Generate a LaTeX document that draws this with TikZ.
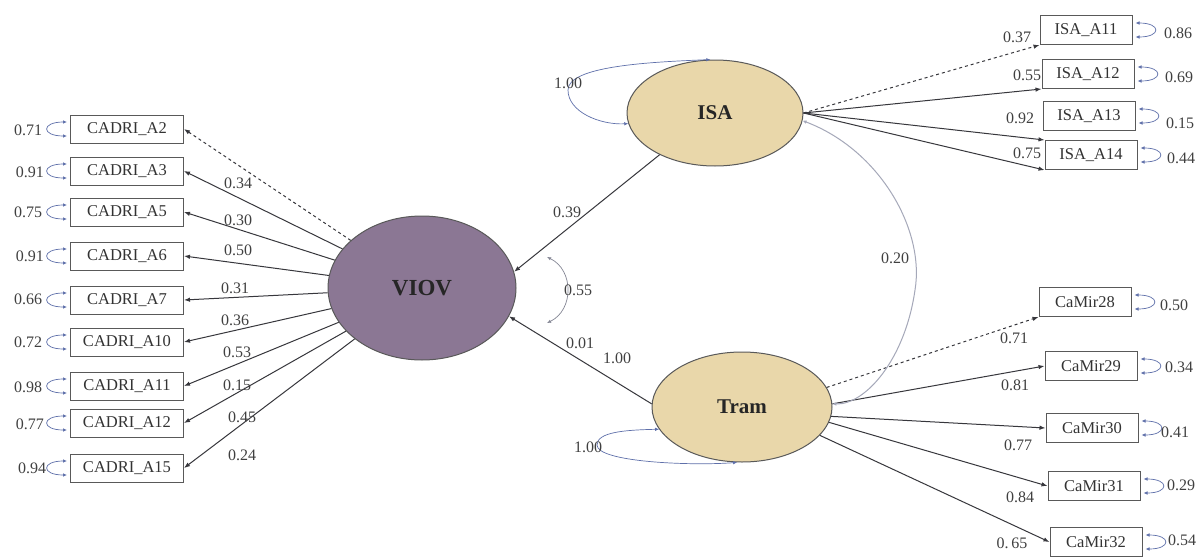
\documentclass[tikz,border=0pt]{standalone}
\usepackage{fontspec}
\setmainfont{Liberation Serif}
\usetikzlibrary{shapes.geometric,arrows.meta}
\definecolor{viovc}{RGB}{139,119,148}
\definecolor{tanc}{RGB}{233,215,170}
\definecolor{loopblue}{RGB}{95,112,170}
\definecolor{covgrey}{RGB}{165,168,185}
\definecolor{edgec}{RGB}{55,55,60}
\newcommand\errL[1]{\draw[loopc] ([xshift=-3pt,yshift=7pt]#1.west) .. controls +(-26pt,0pt) and +(-26pt,0pt) .. ([xshift=-3pt,yshift=-7pt]#1.west);}
\newcommand\errR[1]{\draw[loopc] ([xshift=3pt,yshift=7pt]#1.east) .. controls +(26pt,0pt) and +(26pt,0pt) .. ([xshift=3pt,yshift=-7pt]#1.east);}
\tikzset{
  obs/.style={draw=black!65, line width=1pt, minimum width=113pt, minimum height=28pt, inner sep=0pt, text=black!80, font=\fontsize{16.5}{18}\selectfont},
  obsr/.style={obs, minimum width=92pt, minimum height=29pt},
  lat/.style={ellipse, draw=black!65, line width=1pt, inner sep=0pt, text=black!85},
  load/.style={-{Latex[length=6pt,width=4.5pt]}, line width=1pt, draw=edgec},
  loopc/.style={{Latex[length=4pt,width=3.5pt]}-{Latex[length=4pt,width=3.5pt]}, draw=loopblue, line width=0.7pt},
  covc/.style={{Latex[length=4pt,width=3.5pt]}-{Latex[length=4pt,width=3.5pt]}, draw=covgrey, line width=1pt},
  lbl/.style={font=\fontsize{16}{18}\selectfont, text=black!75, inner sep=0pt}
}
\begin{document}
\begin{tikzpicture}[x=1pt,y=-1pt]
\useasboundingbox[fill=white] (0,0) rectangle (1203,557);

% latent variables
\node[lat, fill=viovc, minimum width=188pt, minimum height=144pt, font=\bfseries\fontsize{23}{26}\selectfont] (VIOV) at (422,288) {VIOV};
\node[lat, fill=tanc, minimum width=176pt, minimum height=106pt, font=\bfseries\fontsize{21}{24}\selectfont] (ISA) at (715,113) {ISA};
\node[lat, fill=tanc, minimum width=180pt, minimum height=110pt, font=\bfseries\fontsize{21}{24}\selectfont] (Tram) at (742,407) {Tram};

% left indicators
\node[obs] (A2)  at (127,129) {CADRI\_A2};
\node[obs] (A3)  at (127,171) {CADRI\_A3};
\node[obs] (A5)  at (127,212) {CADRI\_A5};
\node[obs] (A6)  at (127,256) {CADRI\_A6};
\node[obs] (A7)  at (127,300) {CADRI\_A7};
\node[obs] (A10) at (127,342) {CADRI\_A10};
\node[obs] (A11) at (127,386) {CADRI\_A11};
\node[obs] (A12) at (127,423) {CADRI\_A12};
\node[obs] (A15) at (127,468) {CADRI\_A15};

% ISA indicators
\node[obsr] (I11) at (1086,30)  {ISA\_A11};
\node[obsr] (I12) at (1088,74)  {ISA\_A12};
\node[obsr] (I13) at (1089,116) {ISA\_A13};
\node[obsr] (I14) at (1091,155) {ISA\_A14};

% Tram indicators
\node[obsr] (C28) at (1085,302) {CaMir28};
\node[obsr] (C29) at (1091,366) {CaMir29};
\node[obsr] (C30) at (1092,428) {CaMir30};
\node[obsr] (C31) at (1094,486) {CaMir31};
\node[obsr] (C32) at (1096,542) {CaMir32};

% loadings VIOV
\draw[load,dashed] (VIOV) -- (A2.east);
\draw[load] (VIOV) -- (A3.east);
\draw[load] (VIOV) -- (A5.east);
\draw[load] (VIOV) -- (A6.east);
\draw[load] (VIOV) -- (A7.east);
\draw[load] (VIOV) -- (A10.east);
\draw[load] (VIOV) -- (A11.east);
\draw[load] (VIOV) -- (A12.east);
\draw[load] (VIOV) -- (A15.east);

% loadings ISA
\draw[load,dashed] (ISA.east) -- (I11.south west);
\draw[load] (ISA.east) -- (I12.south west);
\draw[load] (ISA.east) -- (I14.north west);
\draw[load] (ISA.east) -- (I14.south west);

% loadings Tram
\draw[load,dashed] (Tram.13) -- (C28.south west);
\draw[load] (Tram.2) -- (C29.west);
\draw[load] (Tram.-6) -- (C30.west);
\draw[load] (Tram.-10) -- (C31.west);
\draw[load] (Tram.-20) -- (C32.west);

% structural paths
\draw[load] (ISA.217) -- (VIOV.10);
\draw[load] (Tram.178) -- (VIOV.-18);

% error loops
\errL{A2}\errL{A3}\errL{A5}\errL{A6}\errL{A7}\errL{A10}\errL{A11}\errL{A12}\errL{A15}
\errR{I11}\errR{I12}\errR{I13}\errR{I14}
\errR{C28}\errR{C29}\errR{C30}\errR{C31}\errR{C32}

% residual covariance 0.55
\coordinate (r55a) at (547,257);
\coordinate (r55b) at (547,323);
\draw[loopc, draw=covgrey!80!black] (r55a) .. controls (574,270) and (574,310) .. (r55b);

% self loops
\draw[loopc] (ISA.95) .. controls (650,62) and (568,66) .. (568,90) .. controls (568,112) and (600,125) .. (ISA.187);
\draw[loopc] (Tram.195) .. controls (625,430) and (597,432) .. (597,445) .. controls (597,462) and (690,466) .. (Tram.265);

% ISA - Tram covariance
\draw[covc] (ISA.-5) .. controls (880,150) and (925,230) .. (915,290) .. controls (905,360) and (865,405) .. (Tram.2);

% labels: left errors
\node[lbl] (e1) at (28,130) {0.71};
\node[lbl] (e2) at (30,172) {0.91};
\node[lbl] (e3) at (28,212) {0.75};
\node[lbl] (e4) at (30,256) {0.91};
\node[lbl] (e5) at (28,299) {0.66};
\node[lbl] (e6) at (28,342) {0.72};
\node[lbl] (e7) at (28,387) {0.98};
\node[lbl] (e8) at (30,424) {0.77};
\node[lbl] (e9) at (32,468) {0.94};

% labels: left loadings
\node[lbl] (w1) at (238,183) {0.34};
\node[lbl] (w2) at (238,220) {0.30};
\node[lbl] (w3) at (238,250) {0.50};
\node[lbl] (w4) at (235,288) {0.31};
\node[lbl] (w5) at (235,320) {0.36};
\node[lbl] (w6) at (237,352) {0.53};
\node[lbl] (w7) at (237,385) {0.15};
\node[lbl] (w8) at (242,417) {0.45};
\node[lbl] (w9) at (242,455) {0.24};

% labels: ISA side
\node[lbl] (s1) at (1017,37) {0.37};
\node[lbl] (s2) at (1027,75) {0.55};
\node[lbl] (s3) at (1020,118) {0.92};
\node[lbl] (s4) at (1027,153) {0.75};
\node[lbl] (s5) at (1178,33) {0.86};
\node[lbl] (s6) at (1179,77) {0.69};
\node[lbl] (s7) at (1180,123) {0.15};
\node[lbl] (s8) at (1181,158) {0.44};

% labels: Tram side
\node[lbl] (t1) at (1014,338) {0.71};
\node[lbl] (t2) at (1015,385) {0.81};
\node[lbl] (t3) at (1018,445) {0.77};
\node[lbl] (t4) at (1020,497) {0.84};
\node[lbl] (t5) at (1012,543) {0.\,65};
\node[lbl] (t6) at (1174,305) {0.50};
\node[lbl] (t7) at (1179,367) {0.34};
\node[lbl] (t8) at (1175,432) {0.41};
\node[lbl] (t9) at (1181,485) {0.29};
\node[lbl] (t10) at (1182,540) {0.54};

% labels: structural
\node[lbl] (p1) at (567,212) {0.39};
\node[lbl] (p2) at (580,343) {0.01};
\node[lbl] (p3) at (617,358) {1.00};
\node[lbl] (p4) at (578,290) {0.55};
\node[lbl] (p5) at (895,258) {0.20};
\node[lbl] (p6) at (568,83) {1.00};
\node[lbl] (p7) at (588,447) {1.00};
\end{tikzpicture}
\end{document}
